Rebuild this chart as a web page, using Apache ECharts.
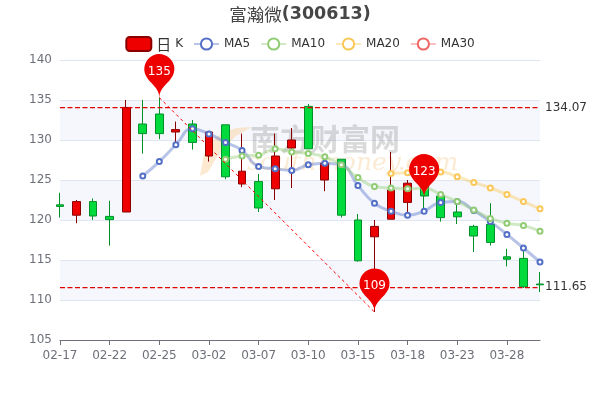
<!DOCTYPE html>
<html>
<head>
<meta charset="utf-8">
<style>html,body{margin:0;padding:0;background:#fff}#c{width:600px;height:400px}</style>
<script src="https://cdn.jsdelivr.net/npm/echarts@6/dist/echarts.min.js"></script>
</head>
<body>
<div id="c"></div>
<script>
const titleName = '富瀚微';
const titleCode = '(300613)';
const dates = ['02-17','02-18','02-19','02-22','02-23','02-24','02-25','02-26','03-01','03-02','03-03','03-04','03-07','03-08','03-09','03-10','03-11','03-12','03-15','03-16','03-17','03-18','03-19','03-22','03-23','03-24','03-25','03-28','03-29','03-30'];
// open, close, low, high
const candles = [
[121.9,121.7,120.3,123.4],[120.6,122.3,119.6,122.5],[122.3,120.5,120.0,122.7],[120.45,120.05,116.8,122.4],
[121.0,134.07,121.0,135.0],[132.0,130.8,128.3,135.0],[133.25,130.8,130.1,135.3],[131.0,131.3,129.6,132.3],
[132.0,129.7,128.8,132.5],[128.0,131.0,127.3,131.0],[131.9,125.4,125.1,131.9],[124.5,126.1,124.1,130.8],
[124.8,121.5,121.0,125.75],[123.9,128.0,122.5,130.8],[129.0,130.0,124.0,131.5],[134.2,128.9,128.9,134.5],
[125.0,127.1,123.6,127.5],[127.6,120.6,120.3,127.6],[120.0,114.9,114.8,120.75],[117.9,119.2,108.5,120.0],
[120.1,123.75,120.1,128.5],[122.2,124.6,121.0,125.0],[124.6,123.0,121.5,125.0],[123.0,120.3,119.8,123.5],
[121.0,120.4,119.5,121.9],[119.2,118.0,116.0,119.4],[119.45,117.2,116.8,122.1],[115.4,115.1,114.2,116.4],
[115.2,111.65,111.5,116.3],[112.0,111.9,111.0,113.5]];
const ma5 = ['-','-','-','-','-',125.5,127.3,129.4,131.4,130.75,129.7,128.7,126.7,126.4,126.2,126.9,127.1,126.9,124.3,122.1,121.1,120.6,121.1,122.2,122.3,121.2,119.8,118.2,116.5,114.75];
const ma10 = ['-','-','-','-','-','-','-','-','-','-',127.6,128.0,128.1,128.9,128.5,128.3,127.9,126.9,125.3,124.2,124.0,123.9,124.0,123.2,122.3,121.25,120.2,119.6,119.3,118.6];
const ma20 = ['-','-','-','-','-','-','-','-','-','-','-','-','-','-','-','-','-','-','-','-',125.8,125.9,126.0,126.0,125.4,124.7,124.0,123.2,122.3,121.4];
const ma30 = dates.map(() => '-');
const hLines = [134.07, 111.65];
const pins = [[6,135.3,135],[19,108.5,109],[22,122.8,123]];
const slant = [[6,135.3],[19,108.5]];
const legendNames = ['日K','MA5','MA10','MA20','MA30'];

const FONT = '"DejaVu Sans","Noto Sans CJK SC",sans-serif';
const chart = echarts.init(document.getElementById('c'), null, {renderer:'canvas'});
const maSeries = (name, data, color) => ({
  name, type:'line', data, smooth:true, symbol:'emptyCircle', symbolSize:5,
  itemStyle:{color,borderWidth:1.5}, lineStyle:{color, width:3, opacity:0.42}, z:3
});
chart.setOption({
  animation:false,
  textStyle:{fontFamily:FONT},
  title:{text:'{a|'+titleName+'}{b|'+titleCode+'}',left:'center',top:0,
    textStyle:{rich:{
      a:{fontSize:17.5,fontWeight:'normal',color:'#464646',fontFamily:'"Noto Sans CJK SC"'},
      b:{fontSize:17.5,fontWeight:'bold',color:'#464646',fontFamily:'"DejaVu Sans"'}}}},
  legend:{data:legendNames,top:31,left:'center',itemWidth:25,itemHeight:14,itemGap:10,
    formatter:n=>n==='日K'?'{a|日} {b|K}':n,
    textStyle:{fontSize:12,color:'#333',fontFamily:FONT,
      rich:{a:{fontSize:15,color:'#333',fontFamily:'"Noto Sans CJK SC"'},b:{fontSize:12,color:'#333',fontFamily:'"DejaVu Sans"'}}}},
  grid:{left:60,right:60,top:60,bottom:60},
  xAxis:{type:'category',data:dates,boundaryGap:false,
    axisLine:{lineStyle:{color:'#6e7079'}},axisTick:{show:true,interval:2,lineStyle:{color:'#6e7079'}},
    axisLabel:{interval:2,margin:10,color:'#6e7079',fontSize:12,fontFamily:FONT},splitLine:{show:false}},
  yAxis:{type:'value',min:105,max:140,interval:5,scale:true,
    axisLine:{show:false},axisTick:{show:false},
    axisLabel:{color:'#6e7079',fontSize:12,fontFamily:FONT,padding:[2,0,0,0]},
    splitLine:{show:true,lineStyle:{color:'#e0e6f1'}},
    splitArea:{show:true,areaStyle:{color:['rgba(255,255,255,1)','rgba(245,247,252,1)']}}},
  graphic:[
    {type:'polygon',z:1,silent:true,shape:{points:[[252,127],[236,128],[222,133],[211,142],[204,154],[200,176],[208,172],[215,160],[224,148],[236,136]]},style:{fill:'rgba(250,215,170,0.55)'}},
    {type:'text',z:1,silent:true,left:250,top:124,style:{text:'南方财富网',font:'bold 30px "Noto Sans CJK SC"',fill:'rgba(120,120,120,0.27)'}},
    {type:'text',z:1,silent:true,left:247,top:151,style:{text:'southmoney.com',font:'italic 25px "DejaVu Serif"',fill:'rgba(250,215,170,0.5)'}}
  ],
  series:[
    {name:'日K',type:'candlestick',data:candles,z:2,
      itemStyle:{color:'#ee0000',color0:'#00da3c',borderColor:'#8A0000',borderColor0:'#008F28'},
      markPoint:{symbol:'pin',symbolSize:50,itemStyle:{color:'#ee0000'},
        label:{color:'#fff',fontSize:12,fontFamily:FONT,formatter:p=>p.value},
        data:pins.map(p=>({coord:[p[0],p[1]],value:p[2]}))},
      markLine:{symbol:['none','none'],silent:true,
        lineStyle:{color:'#e00000',type:'dashed',width:1.25},
        label:{position:'end',color:'#333',fontSize:12,fontFamily:FONT},
        data:[...hLines.map(v=>({yAxis:v})),
          [{coord:slant[0],label:{show:false},lineStyle:{type:[3,3],width:1,color:'#ff0000'}},
           {coord:slant[1],lineStyle:{type:[3,3],width:1,color:'#ff0000'}}]]}
    },
    maSeries('MA5',ma5,'#5470c6'),
    maSeries('MA10',ma10,'#91cc75'),
    maSeries('MA20',ma20,'#fac858'),
    maSeries('MA30',ma30,'#ee6666')
  ]
});
</script>
</body>
</html>
